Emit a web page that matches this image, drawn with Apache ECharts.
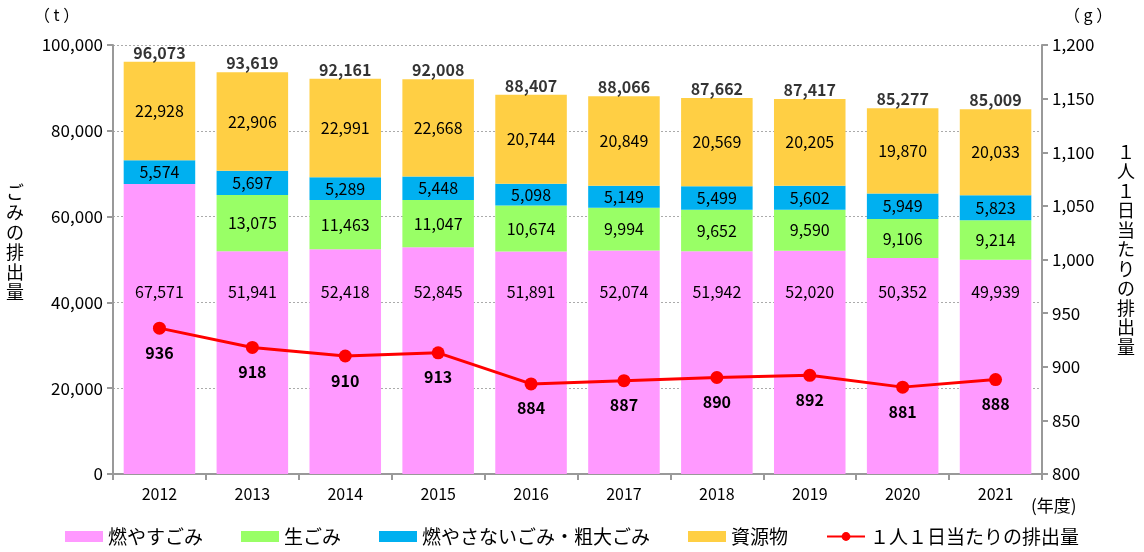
<!DOCTYPE html>
<html><head><meta charset="utf-8">
<script src="https://cdn.jsdelivr.net/npm/echarts@6/dist/echarts.min.js"></script>
<style>html,body{margin:0;padding:0;background:#fff}#c{width:1144px;height:552px}</style>
</head><body><div id="c"></div>
<script>
const years = ['2012','2013','2014','2015','2016','2017','2018','2019','2020','2021'];
const moyasu = [67571, 51941, 52418, 52845, 51891, 52074, 51942, 52020, 50352, 49939];
const namagomi = [null, 13075, 11463, 11047, 10674, 9994, 9652, 9590, 9106, 9214];
const funen = [5574, 5697, 5289, 5448, 5098, 5149, 5499, 5602, 5949, 5823];
const shigen = [22928, 22906, 22991, 22668, 20744, 20849, 20569, 20205, 19870, 20033];
const totals = [96073, 93619, 92161, 92008, 88407, 88066, 87662, 87417, 85277, 85009];
const perCapita = [936, 918, 910, 913, 884, 887, 890, 892, 881, 888];
const leftTicks = [0, 20000, 40000, 60000, 80000, 100000];
const rightTicks = [800, 850, 900, 950, 1000, 1050, 1100, 1150, 1200];

const FONT = '"Noto Sans CJK JP", sans-serif';
const fmt = v => (v == null ? '' : Number(v).toLocaleString('en-US'));
const chart = echarts.init(document.getElementById('c'));
const barLabel = {show: true, position: 'inside', color: '#000', fontSize: 16, fontFamily: FONT,
  formatter: p => fmt(p.value)};
const barSeries = (name, data, color, label) => ({
  name, type: 'bar', stack: 'a', data, barWidth: '77%',
  itemStyle: {color}, label: label || barLabel, emphasis: {disabled: true}
});
const vert = s => s.split('').join('\n');
const txt = (left, top, text, size, lh) => ({type: 'text', left, top,
  style: {text, fill: '#000', fontSize: size, fontFamily: FONT, lineHeight: lh}});
chart.setOption({
  animation: false,
  textStyle: {fontFamily: FONT},
  grid: {left: 113, right: 102, top: 45, bottom: 78},
  legend: {
    bottom: 1, left: 'center', itemWidth: 38, itemHeight: 11, itemGap: 38,
    textStyle: {fontSize: 19, color: '#000', fontFamily: FONT},
    data: [
      {name: '燃やすごみ', icon: 'rect'},
      {name: '生ごみ', icon: 'rect'},
      {name: '燃やさないごみ・粗大ごみ', icon: 'rect'},
      {name: '資源物', icon: 'rect'},
      {name: '１人１日当たりの排出量'}
    ]
  },
  xAxis: {
    type: 'category', data: years,
    axisLine: {lineStyle: {color: '#999', width: 2}},
    axisTick: {show: true, length: 6, lineStyle: {color: '#999', width: 2}},
    axisLabel: {color: '#000', fontSize: 16, margin: 12}
  },
  yAxis: [
    {type: 'value', min: leftTicks[0], max: leftTicks[leftTicks.length-1], interval: 20000,
     axisLine: {show: true, lineStyle: {color: '#999', width: 2}},
     axisTick: {show: true, length: 6, lineStyle: {color: '#999', width: 2}},
     axisLabel: {color: '#000', fontSize: 17, formatter: v => fmt(v), margin: 10},
     splitLine: {show: true, lineStyle: {color: '#aaa', type: [2, 2], width: 1}}},
    {type: 'value', min: rightTicks[0], max: rightTicks[rightTicks.length-1], interval: 50,
     axisLine: {show: true, lineStyle: {color: '#999', width: 2}},
     axisTick: {show: true, length: 6, lineStyle: {color: '#999', width: 2}},
     axisLabel: {color: '#000', fontSize: 17, formatter: v => fmt(v), margin: 10},
     splitLine: {show: false}}
  ],
  series: [
    barSeries('燃やすごみ', moyasu, '#FF99FF',
      Object.assign({}, barLabel, {position: 'insideBottom', distance: 174})),
    barSeries('生ごみ', namagomi, '#99FF66'),
    barSeries('燃やさないごみ・粗大ごみ', funen, '#00B0F0'),
    barSeries('資源物', shigen, '#FFCF44'),
    {name: 'total', type: 'scatter', data: totals, symbolSize: 0, silent: true,
     label: {show: true, position: 'top', distance: 1, color: '#000', fontSize: 16, fontWeight: 'bold',
       formatter: p => fmt(p.value)}},
    {name: '１人１日当たりの排出量', type: 'line', yAxisIndex: 1, data: perCapita,
     symbol: 'circle', symbolSize: 13, z: 10,
     lineStyle: {color: '#FF0000', width: 3}, itemStyle: {color: '#FF0000'},
     label: {show: true, position: 'bottom', distance: 10, color: '#000', fontSize: 16, fontWeight: 'bold'}}
  ],
  graphic: [
    txt(34, 7, '（ t ）', 16),
    txt(1064, 7, '（ g ）', 16),
    txt(1031, 497, '(年度)', 17),
    txt(6, 182, vert('ごみの排出量'), 18, 20),
    txt(1117, 142, vert('１人１日当たりの排出量'), 18, 19.5)
  ]
});
</script></body></html>
